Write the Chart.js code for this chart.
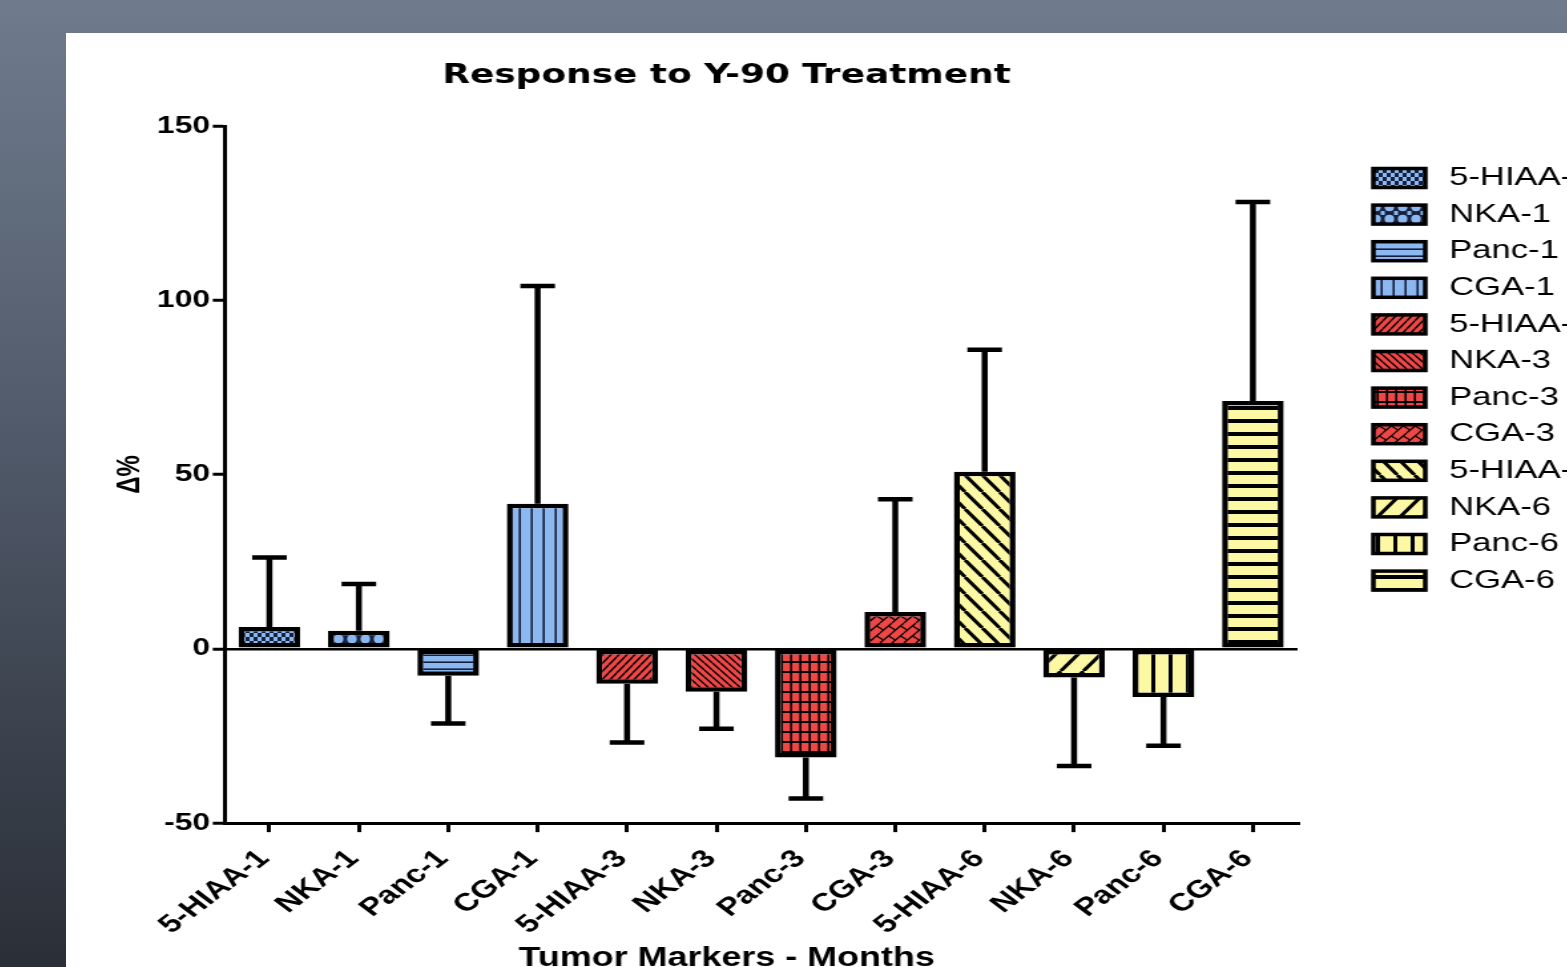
<!DOCTYPE html>
<html>
<head>
<meta charset="utf-8">
<script src="https://cdn.jsdelivr.net/npm/chart.js@4.4.1/dist/chart.umd.min.js"></script>
<style>
    html, body {
        margin: 0;
        padding: 0;
        width: 1567px;
        height: 967px;
        overflow: hidden;
        background: linear-gradient(to bottom, #6f7b8d 0%, #4d5665 50%, #2a2f37 100%);
    }
    #panel {
        position: absolute;
        left: 66px;
        top: 33px;
        width: 1501px;
        height: 934px;
        background: #fff;
        overflow: hidden;
    }
    /* the source picture is stretched sideways, so is this */
    #wrap {
        position: absolute;
        left: 0;
        top: 0;
        width: 1160px;
        height: 960px;
        transform: scaleX(1.33);
        transform-origin: 0 0;
    }
</style>
</head>
<body>
<div id="panel"><div id="wrap"><canvas id="myChart" width="1160" height="960"></canvas></div></div>
<script>
const labels = [
    '5-HIAA-1', 'NKA-1', 'Panc-1', 'CGA-1',
    '5-HIAA-3', 'NKA-3', 'Panc-3', 'CGA-3',
    '5-HIAA-6', 'NKA-6', 'Panc-6', 'CGA-6',
];

// mean change in %
const values = [6.3, 5.2, -7.7, 41.6, -10.0, -12.3, -31.2, 10.6, 50.8, -8.2, -13.8, 71.1];

// one-sided error bars (SD), drawn away from zero
const errors = [19.9, 13.4, 13.7, 62.5, 16.9, 10.6, 11.7, 32.3, 35.0, 25.4, 14.0, 57.1];

const yTicks = [-50, 0, 50, 100, 150];

const chartTitle = 'Response to Y-90 Treatment';
const xTitle = 'Tumor Markers - Months';

const BLUE = '#8cb8f2';
const RED = '#ef4646';
const YELLOW = '#fdf8a4';
const NAVY = '#16203a';

function makePattern(w, h, bg, draw) {
    let c = document.createElement('canvas');
    c.width = w;
    c.height = h;
    let g = c.getContext('2d');
    g.fillStyle = bg;
    g.fillRect(0, 0, w, h);
    draw(g, w, h);
    return g.createPattern(c, 'repeat');
}

function slashes(color, lw, up) {
    return (g, w, h) => {
        g.strokeStyle = color;
        g.lineWidth = lw;
        g.beginPath();
        for (let k = -1; k <= 1; k++) {
            if (up) {
                g.moveTo(k * w, h);
                g.lineTo(k * w + w, 0);
            } else {
                g.moveTo(k * w, 0);
                g.lineTo(k * w + w, h);
            }
        }
        g.stroke();
    };
}

function hLines(color, lw) {
    return (g, w, h) => {
        g.fillStyle = color;
        g.fillRect(0, h - lw, w, lw);
    };
}

function vLines(color, lw) {
    return (g, w, h) => {
        g.fillStyle = color;
        g.fillRect(w - lw, 0, lw, h);
    };
}

const fills = [
    makePattern(6, 8, BLUE, (g) => {
        g.fillStyle = NAVY;
        g.fillRect(0, 0, 3, 4);
        g.fillRect(3, 4, 3, 4);
    }),
    makePattern(10, 12, NAVY, (g) => {
        g.fillStyle = BLUE;
        g.beginPath();
        g.ellipse(5, 6, 3.6, 4.2, 0, 0, Math.PI * 2);
        g.fill();
        g.fillRect(0, 0, 1.5, 2);
        g.fillRect(8.5, 0, 1.5, 2);
        g.fillRect(0, 10, 1.5, 2);
        g.fillRect(8.5, 10, 1.5, 2);
    }),
    makePattern(8, 7, BLUE, hLines(NAVY, 1.6)),
    makePattern(9, 8, BLUE, vLines(NAVY, 1.6)),
    makePattern(6, 8, RED, slashes('#000', 1.4, true)),
    makePattern(6, 7, RED, slashes('#000', 1.4, false)),
    makePattern(7, 10, RED, (g, w, h) => {
        g.fillStyle = '#000';
        g.fillRect(0, h - 2, w, 2);
        g.fillRect(w - 1.6, 0, 1.6, h);
    }),
    makePattern(9, 10, RED, (g, w, h) => {
        slashes('#000', 1.2, true)(g, w, h);
        g.beginPath();
        g.moveTo(w - 2.5, h / 2 - 2);
        g.lineTo(w + 2.5, h / 2 + 2);
        g.moveTo(-2.5, h / 2 - 2);
        g.lineTo(2.5, h / 2 + 2);
        g.stroke();
    }),
    makePattern(13, 17, YELLOW, slashes('#000', 3, false)),
    makePattern(17, 22, YELLOW, slashes('#000', 3, true)),
    makePattern(13, 20, YELLOW, vLines('#000', 3)),
    makePattern(20, 13, YELLOW, hLines('#000', 4)),
];

const errorBars = {
    id: 'errorBars',
    afterDatasetsDraw(chart) {
        const ctx = chart.ctx;
        const y = chart.scales.y;
        const meta = chart.getDatasetMeta(0);
        ctx.save();
        ctx.strokeStyle = '#000';
        ctx.lineWidth = 4.5;
        meta.data.forEach((bar, i) => {
            let v = values[i];
            let end = v >= 0 ? v + errors[i] : v - errors[i];
            let yEnd = y.getPixelForValue(end);
            ctx.beginPath();
            ctx.moveTo(bar.x, bar.y);
            ctx.lineTo(bar.x, yEnd);
            ctx.moveTo(bar.x - 13, yEnd);
            ctx.lineTo(bar.x + 13, yEnd);
            ctx.stroke();
        });
        ctx.restore();
    }
};

// title and x title sit a bit left of the plot centre in the source
const titles = {
    id: 'titles',
    afterDraw(chart) {
        const ctx = chart.ctx;
        const area = chart.chartArea;
        const cx = (area.left + area.right) / 2 - 26;
        ctx.save();
        ctx.fillStyle = '#000';
        ctx.textAlign = 'center';
        ctx.textBaseline = 'middle';
        ctx.font = 'bold 27px "DejaVu Sans"';
        ctx.fillText(chartTitle, cx, area.top - 50);
        ctx.font = 'bold 27px "Liberation Sans"';
        ctx.fillText(xTitle, cx, area.bottom + 135);
        ctx.restore();
    }
};

const markerLegend = {
    id: 'markerLegend',
    afterDraw(chart) {
        const ctx = chart.ctx;
        const area = chart.chartArea;
        const ds = chart.data.datasets[0];
        ctx.save();
        ctx.font = '26px "Liberation Sans"';
        ctx.textBaseline = 'middle';
        chart.data.labels.forEach((lab, i) => {
            let cy = area.top + 52 + i * 36.6;
            let bx = area.right + 57;
            ctx.fillStyle = ds.backgroundColor[i];
            ctx.fillRect(bx, cy - 9.5, 39, 19);
            ctx.lineWidth = 3.5;
            ctx.strokeStyle = '#000';
            ctx.strokeRect(bx, cy - 9.5, 39, 19);
            ctx.fillStyle = '#000';
            ctx.fillText(lab, area.right + 114, cy);
        });
        ctx.restore();
    }
};

const data = {
    labels: labels,
    datasets: [{
        data: values,
        backgroundColor: fills,
        borderColor: '#000',
        borderWidth: 4.5,
        borderSkipped: false,
        barPercentage: 0.69,
        categoryPercentage: 1.0,
    }]
};

const config = {
    type: 'bar',
    data: data,
    options: {
        responsive: false,
        animation: false,
        devicePixelRatio: 1,
        layout: { padding: { left: 33.5, right: 234, top: 93, bottom: 41 } },
        plugins: {
            legend: { display: false },
            tooltip: { enabled: false },
            title: { display: false }
        },
        scales: {
            x: {
                offset: true,
                grid: { drawOnChartArea: false, offset: false, color: '#000', tickLength: 9, lineWidth: 3 },
                border: { color: '#000', width: 3 },
                ticks: {
                    color: '#000',
                    font: { family: 'Liberation Sans', size: 25, weight: 'bold' },
                    maxRotation: 45,
                    minRotation: 45,
                    padding: 12,
                    labelOffset: -4,
                    autoSkip: false
                }
            },
            y: {
                min: yTicks[0],
                max: yTicks[yTicks.length - 1],
                afterBuildTicks: (scale) => {
                    scale.ticks = yTicks.map(v => ({ value: v }));
                },
                ticks: {
                    color: '#000',
                    font: { family: 'Liberation Sans', size: 24, weight: 'bold' },
                    padding: 2
                },
                grid: {
                    drawOnChartArea: true,
                    color: (c) => (c.tick && c.tick.value === 0 ? '#000' : 'rgba(0,0,0,0)'),
                    tickColor: '#000',
                    lineWidth: 2.5,
                    tickWidth: 3,
                    tickLength: 9
                },
                border: { color: '#000', width: 3 },
                title: {
                    display: true,
                    text: 'Δ%',
                    color: '#000',
                    font: { family: 'Liberation Sans', size: 24, weight: 'bold' },
                    padding: { top: 0, bottom: 4 }
                }
            }
        }
    },
    plugins: [errorBars, titles, markerLegend]
};

const myChart = new Chart(
    document.getElementById('myChart'),
    config
);
</script>
</body>
</html>
